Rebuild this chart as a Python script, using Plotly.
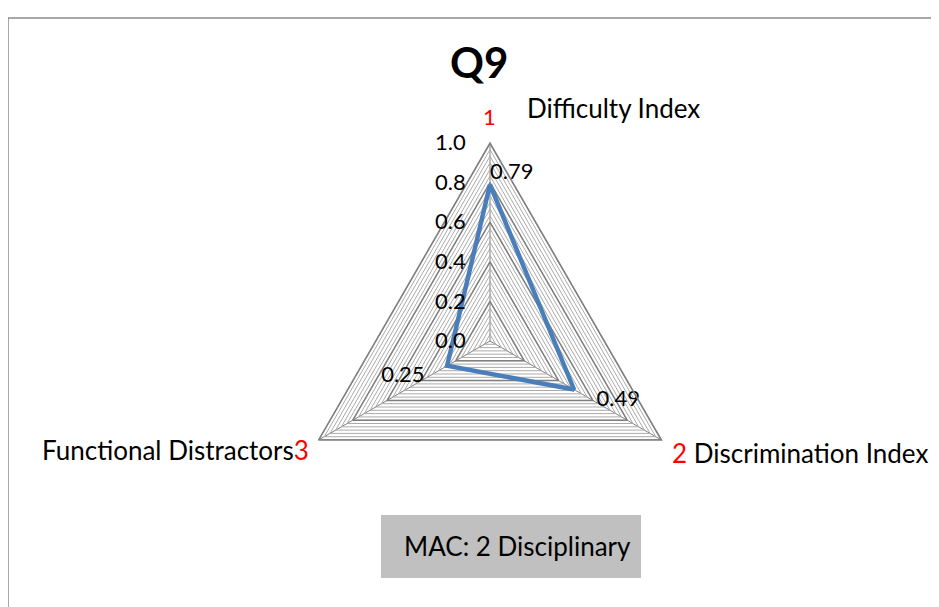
import plotly.graph_objects as go

categories = ["Difficulty Index", "Discrimination Index", "Functional Distractors"]
category_numbers = ["1", "2", "3"]
values = [0.79, 0.49, 0.25]
value_labels = ["0.79", "0.49", "0.25"]
major_ticks = [0.0, 0.2, 0.4, 0.6, 0.8, 1.0]
major_tick_labels = ["0.0", "0.2", "0.4", "0.6", "0.8", "1.0"]
title_text = "Q9"
box_text = "MAC: 2 Disciplinary"

FONT = "Lato"
OFF = 8  # default page body margin
W, H = 939 - OFF, 607 - OFF
cx, cy, R = 490, 341, 198
NB = "\u00a0"


def X(px):
    return (px - OFF) / W


def Y(py):
    return 1 - (py - OFF) / H


fig = go.Figure()

# hatch-like minor grid (6 lines per major band)
n_minor = 6
minor_vals = [i / (5 * n_minor) for i in range(5 * n_minor + 1)]
minor_text = [major_tick_labels[i // n_minor] if i % n_minor == 0 else "" for i in range(len(minor_vals))]

# major gridline triangles drawn darker
for r in major_ticks[1:]:
    fig.add_trace(go.Scatterpolar(
        r=[r] * (len(categories) + 1),
        theta=categories + [categories[0]],
        mode="lines", line=dict(color="#808080", width=1.5),
        hoverinfo="skip", showlegend=False))

fig.add_trace(go.Scatterpolar(
    r=values + [values[0]],
    theta=categories + [categories[0]],
    mode="lines",
    line=dict(color="#4a7ebb", width=4.5),
    showlegend=False))

fig.add_trace(go.Scatterpolar(
    r=values, theta=categories, mode="text",
    text=[value_labels[0], NB * 4 + value_labels[1], value_labels[2] + NB * 4],
    textposition=["top right", "bottom right", "bottom left"],
    textfont=dict(family=FONT, size=22, color="black"),
    showlegend=False))

fig.update_layout(
    width=W, height=H,
    margin=dict(l=0, r=0, t=0, b=0),
    paper_bgcolor="white",
    font=dict(family=FONT, color="black"),
    polar=dict(
        domain=dict(x=[X(cx - R), X(cx + R)], y=[Y(cy + R), Y(cy - R)]),
        gridshape="linear",
        bgcolor="white",
        radialaxis=dict(
            range=[0, 1], angle=90, side="counterclockwise",
            tickvals=minor_vals,
            ticktext=minor_text,
            tickfont=dict(family=FONT, size=22, color="black"),
            gridcolor="#ababab", gridwidth=1,
            showline=False, ticks="outside", ticklen=16, tickcolor="rgba(0,0,0,0)",
            tickangle=90,
        ),
        angularaxis=dict(
            rotation=90, direction="clockwise",
            showticklabels=False, ticks="",
            linecolor="#808080", linewidth=1.5,
            gridcolor="#808080", gridwidth=1.2,
        ),
    ),
    annotations=[
        dict(text="<b>" + title_text + "</b>", x=X(479), y=Y(62),
             font=dict(family=FONT, size=42, color="black")),
        dict(text=category_numbers[0], x=X(490), y=Y(117),
             font=dict(family=FONT, size=22, color="red")),
        dict(text=categories[0], x=X(525), y=Y(108), xanchor="left",
             font=dict(family=FONT, size=26, color="black")),
        dict(text="<span style='color:red'>" + category_numbers[1] + "</span> " + categories[1],
             x=X(670), y=Y(453), xanchor="left",
             font=dict(family=FONT, size=26, color="black")),
        dict(text=categories[2] + "<span style='color:red'>" + category_numbers[2] + "</span>",
             x=X(311), y=Y(450), xanchor="right",
             font=dict(family=FONT, size=26, color="black")),
        dict(text=box_text, x=X(517), y=Y(546),
             font=dict(family=FONT, size=26, color="black")),
    ],
    shapes=[
        dict(type="rect", xref="paper", yref="paper", x0=X(8), x1=1.05, y0=-0.05, y1=Y(18),
             line=dict(color="#8c8c8c", width=1.5), fillcolor="rgba(0,0,0,0)", layer="below"),
        dict(type="rect", xref="paper", yref="paper", x0=X(381), x1=X(641), y0=Y(578), y1=Y(515),
             line=dict(width=0), fillcolor="#c0c0c0", layer="below"),
    ],
)
for a in fig.layout.annotations:
    a.update(xref="paper", yref="paper", showarrow=False,
             xanchor=a.xanchor or "center", yanchor="middle")

fig.write_html("out.html")
